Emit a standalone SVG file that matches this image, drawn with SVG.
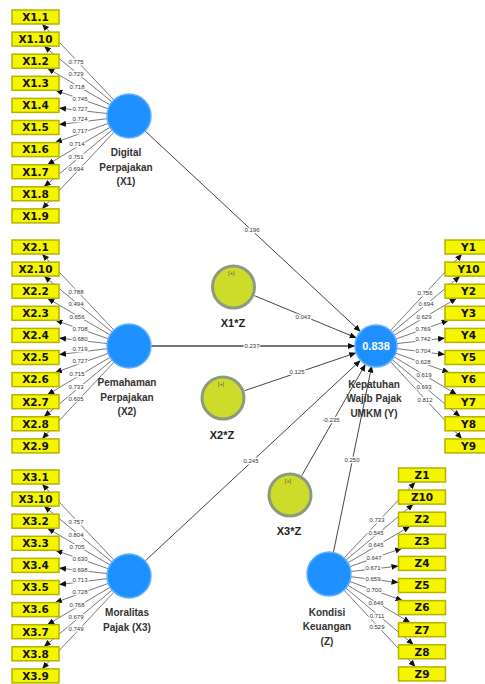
<svg xmlns="http://www.w3.org/2000/svg" width="485" height="684" viewBox="0 0 485 684">
<defs>
<style>
.ind rect{fill:#f5f500;stroke:#b3b300;stroke-width:1.5}
.ind text{font-family:"DejaVu Sans",sans-serif;font-weight:bold;font-size:10.5px;text-anchor:middle;fill:#111}
.lv circle{fill:#1e90ff;stroke:#62b2ff;stroke-width:1.5}
.mod circle{fill:#cddc2b;stroke:#8e9a80;stroke-width:3}
.lbl{font-family:"Liberation Sans",Arial,sans-serif;font-weight:bold;font-size:10px;text-anchor:middle;fill:#333}
.mlbl{font-family:"Liberation Sans",Arial,sans-serif;font-weight:bold;font-size:11px;text-anchor:middle;fill:#222}
.plus{font-family:"Liberation Sans",Arial,sans-serif;font-size:5.5px;text-anchor:middle;fill:#555}
.r2{font-family:"Liberation Sans",Arial,sans-serif;font-weight:bold;font-size:11px;text-anchor:middle;fill:#fff}
.load{stroke:#555;stroke-width:0.8;fill:none;marker-end:url(#ah)}
.path{stroke:#444;stroke-width:1;fill:none;marker-end:url(#ah)}
.num{font-family:"Liberation Sans",Arial,sans-serif;font-size:6px;text-anchor:middle;fill:#333;stroke:#fff;stroke-width:2.5;paint-order:stroke}
</style>
<marker id="ah" markerWidth="7" markerHeight="6" refX="7" refY="3" orient="auto" markerUnits="userSpaceOnUse"><path d="M0,0 L7,3 L0,6 z" fill="#111"/></marker>
</defs>
<rect width="485" height="684" fill="#fff"/>

<g id="connectors">
<!-- X1 loadings -->
<path class="load" d="M113.9,100 L42.1,24"/>
<path class="load" d="M112,102 L44,46.1"/>
<path class="load" d="M110,104.9 L47.4,68.2"/>
<path class="load" d="M108.2,108.7 L55.5,90.3"/>
<path class="load" d="M107.1,113.5 L59,108.1"/>
<path class="load" d="M107.2,118.7 L59,124.6"/>
<path class="load" d="M108.3,123.4 L55,142.6"/>
<path class="load" d="M110.1,127.3 L47.3,164.7"/>
<path class="load" d="M112.1,130.1 L43.9,186.8"/>
<path class="load" d="M114,132.1 L42.05,208.9"/>
<!-- X2 loadings -->
<path class="load" d="M113.9,330 L42.1,254"/>
<path class="load" d="M112,332 L44,276.1"/>
<path class="load" d="M110,334.9 L47.4,298.2"/>
<path class="load" d="M108.2,338.7 L55.5,320.3"/>
<path class="load" d="M107.1,343.5 L59,338.1"/>
<path class="load" d="M107.2,348.7 L59,354.6"/>
<path class="load" d="M108.3,353.4 L55,372.6"/>
<path class="load" d="M110.1,357.3 L47.3,394.7"/>
<path class="load" d="M112.1,360.1 L43.9,416.8"/>
<path class="load" d="M114,362.1 L42.05,438.9"/>
<!-- X3 loadings -->
<path class="load" d="M113.9,560 L42.1,484"/>
<path class="load" d="M112,562 L44,506.1"/>
<path class="load" d="M110,564.9 L47.4,528.2"/>
<path class="load" d="M108.2,568.7 L55.5,550.3"/>
<path class="load" d="M107.1,573.5 L59,568.1"/>
<path class="load" d="M107.2,578.7 L59,584.6"/>
<path class="load" d="M108.3,583.4 L55,602.6"/>
<path class="load" d="M110.1,587.3 L47.3,624.7"/>
<path class="load" d="M112.1,590.1 L43.9,646.8"/>
<path class="load" d="M114,592.1 L42.05,668.9"/>
<!-- Y loadings -->
<path class="load" d="M390.3,330.7 L462,254"/>
<path class="load" d="M392.1,332.6 L460.1,276.1"/>
<path class="load" d="M394.1,335.3 L456.7,298.2"/>
<path class="load" d="M395.8,339 L448.7,320.3"/>
<path class="load" d="M396.9,343.6 L445,338.1"/>
<path class="load" d="M396.8,348.6 L445,354.6"/>
<path class="load" d="M395.7,353.2 L449.2,372.6"/>
<path class="load" d="M394,356.8 L456.9,394.7"/>
<path class="load" d="M392.1,359.5 L460.2,416.8"/>
<path class="load" d="M390.3,361.4 L462,438.9"/>
<!-- Z loadings -->
<path class="load" d="M344.1,558 L415.4,482"/>
<path class="load" d="M346,560 L413.5,504.1"/>
<path class="load" d="M348,562.8 L410.1,526.2"/>
<path class="load" d="M349.7,566.7 L402.1,548.3"/>
<path class="load" d="M350.9,571.5 L398.5,566.1"/>
<path class="load" d="M350.8,576.7 L398.5,582.6"/>
<path class="load" d="M349.7,581.5 L402.6,600.6"/>
<path class="load" d="M347.9,585.3 L410.3,622.7"/>
<path class="load" d="M345.9,588.1 L413.6,644.8"/>
<path class="load" d="M344,590.1 L415.5,666.9"/>
<!-- structural paths -->
<path class="path" d="M145.1,131 L360.6,331.7"/>
<path class="path" d="M254.5,295.7 L356.6,338"/>
<path class="path" d="M151,346 L355,346" style="stroke:#777;stroke-width:1.8"/>
<path class="path" d="M244.5,390.7 L356.1,352.8"/>
<path class="path" d="M145.1,561 L360.6,360.3"/>
<path class="path" d="M301.8,475.5 L365.5,364.2"/>
<path class="path" d="M333.4,552.5 L371.8,365.6"/>

<!-- loading values -->
<text class="num" x="76" y="64">0.775</text>
<text class="num" x="76" y="76">0.729</text>
<text class="num" x="77" y="89">0.718</text>
<text class="num" x="80" y="101.3">0.745</text>
<text class="num" x="80" y="111.3">0.727</text>
<text class="num" x="80" y="120.5">0.724</text>
<text class="num" x="80" y="132.5">0.717</text>
<text class="num" x="77" y="146">0.714</text>
<text class="num" x="76" y="158.7">0.751</text>
<text class="num" x="76" y="170.8">0.694</text>

<text class="num" x="76" y="294">0.788</text>
<text class="num" x="76" y="306">0.494</text>
<text class="num" x="77" y="319">0.656</text>
<text class="num" x="80" y="331.3">0.708</text>
<text class="num" x="80" y="341.3">0.680</text>
<text class="num" x="80" y="350.5">0.719</text>
<text class="num" x="80" y="362.5">0.727</text>
<text class="num" x="77" y="376">0.715</text>
<text class="num" x="76" y="388.7">0.733</text>
<text class="num" x="76" y="400.8">0.605</text>

<text class="num" x="76" y="523.8">0.757</text>
<text class="num" x="76" y="536.5">0.804</text>
<text class="num" x="77" y="548.8">0.705</text>
<text class="num" x="80" y="561.3">0.630</text>
<text class="num" x="80" y="571.6">0.698</text>
<text class="num" x="80" y="582">0.713</text>
<text class="num" x="80" y="593.6">0.728</text>
<text class="num" x="77" y="606.5">0.768</text>
<text class="num" x="76" y="619">0.679</text>
<text class="num" x="76" y="631">0.749</text>

<text class="num" x="425" y="294.7">0.756</text>
<text class="num" x="426" y="306">0.694</text>
<text class="num" x="424" y="319.3">0.629</text>
<text class="num" x="423" y="331.3">0.769</text>
<text class="num" x="423" y="341.3">0.742</text>
<text class="num" x="423" y="352.7">0.704</text>
<text class="num" x="423" y="363.7">0.628</text>
<text class="num" x="424" y="377">0.619</text>
<text class="num" x="424" y="388.7">0.693</text>
<text class="num" x="425" y="402">0.812</text>

<text class="num" x="377" y="522">0.733</text>
<text class="num" x="376" y="534.7">0.545</text>
<text class="num" x="376" y="547.3">0.645</text>
<text class="num" x="374" y="560.3">0.647</text>
<text class="num" x="373" y="570.3">0.671</text>
<text class="num" x="373" y="581">0.659</text>
<text class="num" x="374" y="592">0.700</text>
<text class="num" x="376" y="604.7">0.646</text>
<text class="num" x="377" y="617.7">0.711</text>
<text class="num" x="377" y="629.3">0.529</text>

<!-- path coefficients -->
<text class="num" x="252" y="232">0.196</text>
<text class="num" x="303" y="319">0.043</text>
<text class="num" x="252" y="348">0.237</text>
<text class="num" x="297" y="374">0.125</text>
<text class="num" x="251" y="463">0.245</text>
<text class="num" x="331" y="422">-0.235</text>
<text class="num" x="352" y="462">0.250</text>
</g>

<!-- latent variables -->
<g id="X1" class="lv"><circle cx="129" cy="116" r="22"/>
<text class="lbl" x="126" y="156">Digital</text><text class="lbl" x="126" y="170.5">Perpajakan</text><text class="lbl" x="126" y="185">(X1)</text></g>
<g id="X2" class="lv"><circle cx="129" cy="346" r="22"/>
<text class="lbl" x="127" y="386">Pemahaman</text><text class="lbl" x="127" y="400.5">Perpajakan</text><text class="lbl" x="127" y="415">(X2)</text></g>
<g id="X3" class="lv"><circle cx="129" cy="576" r="22"/>
<text class="lbl" x="127" y="616">Moralitas</text><text class="lbl" x="127" y="630.5">Pajak (X3)</text></g>
<g id="Y" class="lv"><circle cx="376" cy="346" r="21"/>
<text class="r2" x="376" y="350">0.838</text>
<text class="lbl" x="374" y="387.5">Kepatuhan</text><text class="lbl" x="374" y="402">Wajib Pajak</text><text class="lbl" x="374" y="416.5">UMKM (Y)</text></g>
<g id="Z" class="lv"><circle cx="329" cy="574" r="22"/>
<text class="lbl" x="327" y="615.5">Kondisi</text><text class="lbl" x="327" y="630">Keuangan</text><text class="lbl" x="327" y="644.5">(Z)</text></g>

<!-- moderators -->
<g id="X1Z" class="mod"><circle cx="233.5" cy="287" r="21"/><text class="plus" x="231.5" y="275">[+]</text><text class="mlbl" x="233" y="327">X1*Z</text></g>
<g id="X2Z" class="mod"><circle cx="223" cy="398" r="21"/><text class="plus" x="221" y="386">[+]</text><text class="mlbl" x="222" y="439">X2*Z</text></g>
<g id="X3Z" class="mod"><circle cx="290" cy="495" r="21"/><text class="plus" x="288" y="483">[+]</text><text class="mlbl" x="289" y="535">X3*Z</text></g>

<!-- indicators X1 -->
<g id="X1.1" class="ind"><rect x="12" y="10" width="47" height="14"/><text x="35.5" y="20.8">X1.1</text></g>
<g id="X1.10" class="ind"><rect x="12" y="32.1" width="47" height="14"/><text x="35.5" y="42.9">X1.10</text></g>
<g id="X1.2" class="ind"><rect x="12" y="54.2" width="47" height="14"/><text x="35.5" y="65">X1.2</text></g>
<g id="X1.3" class="ind"><rect x="12" y="76.3" width="47" height="14"/><text x="35.5" y="87.1">X1.3</text></g>
<g id="X1.4" class="ind"><rect x="12" y="98.4" width="47" height="14"/><text x="35.5" y="109.2">X1.4</text></g>
<g id="X1.5" class="ind"><rect x="12" y="120.5" width="47" height="14"/><text x="35.5" y="131.3">X1.5</text></g>
<g id="X1.6" class="ind"><rect x="12" y="142.6" width="47" height="14"/><text x="35.5" y="153.4">X1.6</text></g>
<g id="X1.7" class="ind"><rect x="12" y="164.7" width="47" height="14"/><text x="35.5" y="175.5">X1.7</text></g>
<g id="X1.8" class="ind"><rect x="12" y="186.8" width="47" height="14"/><text x="35.5" y="197.6">X1.8</text></g>
<g id="X1.9" class="ind"><rect x="12" y="208.9" width="47" height="14"/><text x="35.5" y="219.7">X1.9</text></g>
<!-- indicators X2 -->
<g id="X2.1" class="ind"><rect x="12" y="240" width="47" height="14"/><text x="35.5" y="250.8">X2.1</text></g>
<g id="X2.10" class="ind"><rect x="12" y="262.1" width="47" height="14"/><text x="35.5" y="272.9">X2.10</text></g>
<g id="X2.2" class="ind"><rect x="12" y="284.2" width="47" height="14"/><text x="35.5" y="295">X2.2</text></g>
<g id="X2.3" class="ind"><rect x="12" y="306.3" width="47" height="14"/><text x="35.5" y="317.1">X2.3</text></g>
<g id="X2.4" class="ind"><rect x="12" y="328.4" width="47" height="14"/><text x="35.5" y="339.2">X2.4</text></g>
<g id="X2.5" class="ind"><rect x="12" y="350.5" width="47" height="14"/><text x="35.5" y="361.3">X2.5</text></g>
<g id="X2.6" class="ind"><rect x="12" y="372.6" width="47" height="14"/><text x="35.5" y="383.4">X2.6</text></g>
<g id="X2.7" class="ind"><rect x="12" y="394.7" width="47" height="14"/><text x="35.5" y="405.5">X2.7</text></g>
<g id="X2.8" class="ind"><rect x="12" y="416.8" width="47" height="14"/><text x="35.5" y="427.6">X2.8</text></g>
<g id="X2.9" class="ind"><rect x="12" y="438.9" width="47" height="14"/><text x="35.5" y="449.7">X2.9</text></g>
<!-- indicators X3 -->
<g id="X3.1" class="ind"><rect x="12" y="470" width="47" height="14"/><text x="35.5" y="480.8">X3.1</text></g>
<g id="X3.10" class="ind"><rect x="12" y="492.1" width="47" height="14"/><text x="35.5" y="502.9">X3.10</text></g>
<g id="X3.2" class="ind"><rect x="12" y="514.2" width="47" height="14"/><text x="35.5" y="525">X3.2</text></g>
<g id="X3.3" class="ind"><rect x="12" y="536.3" width="47" height="14"/><text x="35.5" y="547.1">X3.3</text></g>
<g id="X3.4" class="ind"><rect x="12" y="558.4" width="47" height="14"/><text x="35.5" y="569.2">X3.4</text></g>
<g id="X3.5" class="ind"><rect x="12" y="580.5" width="47" height="14"/><text x="35.5" y="591.3">X3.5</text></g>
<g id="X3.6" class="ind"><rect x="12" y="602.6" width="47" height="14"/><text x="35.5" y="613.4">X3.6</text></g>
<g id="X3.7" class="ind"><rect x="12" y="624.7" width="47" height="14"/><text x="35.5" y="635.5">X3.7</text></g>
<g id="X3.8" class="ind"><rect x="12" y="646.8" width="47" height="14"/><text x="35.5" y="657.6">X3.8</text></g>
<g id="X3.9" class="ind"><rect x="12" y="668.9" width="47" height="14"/><text x="35.5" y="679.7">X3.9</text></g>
<!-- indicators Y -->
<g id="Y1" class="ind"><rect x="445" y="240" width="47" height="14"/><text x="468.5" y="250.8">Y1</text></g>
<g id="Y10" class="ind"><rect x="445" y="262.1" width="47" height="14"/><text x="468.5" y="272.9">Y10</text></g>
<g id="Y2" class="ind"><rect x="445" y="284.2" width="47" height="14"/><text x="468.5" y="295">Y2</text></g>
<g id="Y3" class="ind"><rect x="445" y="306.3" width="47" height="14"/><text x="468.5" y="317.1">Y3</text></g>
<g id="Y4" class="ind"><rect x="445" y="328.4" width="47" height="14"/><text x="468.5" y="339.2">Y4</text></g>
<g id="Y5" class="ind"><rect x="445" y="350.5" width="47" height="14"/><text x="468.5" y="361.3">Y5</text></g>
<g id="Y6" class="ind"><rect x="445" y="372.6" width="47" height="14"/><text x="468.5" y="383.4">Y6</text></g>
<g id="Y7" class="ind"><rect x="445" y="394.7" width="47" height="14"/><text x="468.5" y="405.5">Y7</text></g>
<g id="Y8" class="ind"><rect x="445" y="416.8" width="47" height="14"/><text x="468.5" y="427.6">Y8</text></g>
<g id="Y9" class="ind"><rect x="445" y="438.9" width="47" height="14"/><text x="468.5" y="449.7">Y9</text></g>
<!-- indicators Z -->
<g id="Z1" class="ind"><rect x="398.5" y="468" width="47" height="14"/><text x="422" y="478.8">Z1</text></g>
<g id="Z10" class="ind"><rect x="398.5" y="490.1" width="47" height="14"/><text x="422" y="500.9">Z10</text></g>
<g id="Z2" class="ind"><rect x="398.5" y="512.2" width="47" height="14"/><text x="422" y="523">Z2</text></g>
<g id="Z3" class="ind"><rect x="398.5" y="534.3" width="47" height="14"/><text x="422" y="545.1">Z3</text></g>
<g id="Z4" class="ind"><rect x="398.5" y="556.4" width="47" height="14"/><text x="422" y="567.2">Z4</text></g>
<g id="Z5" class="ind"><rect x="398.5" y="578.5" width="47" height="14"/><text x="422" y="589.3">Z5</text></g>
<g id="Z6" class="ind"><rect x="398.5" y="600.6" width="47" height="14"/><text x="422" y="611.4">Z6</text></g>
<g id="Z7" class="ind"><rect x="398.5" y="622.7" width="47" height="14"/><text x="422" y="633.5">Z7</text></g>
<g id="Z8" class="ind"><rect x="398.5" y="644.8" width="47" height="14"/><text x="422" y="655.6">Z8</text></g>
<g id="Z9" class="ind"><rect x="398.5" y="666.9" width="47" height="14"/><text x="422" y="677.7">Z9</text></g>
</svg>
